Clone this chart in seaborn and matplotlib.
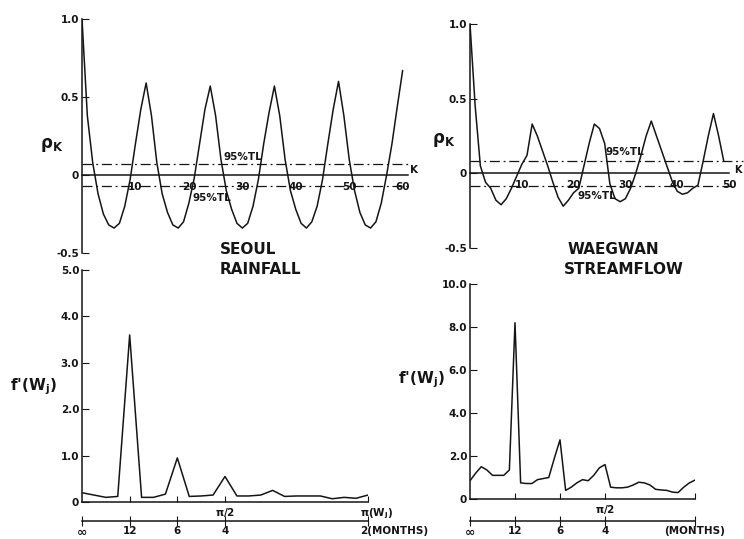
import numpy as np
import pandas as pd
import matplotlib.pyplot as plt
import seaborn as sns
import matplotlib.transforms as mtransforms

# autocorrelation of monthly Seoul rainfall, lags 0..60
seoul_acf = [1.0, 0.38, 0.08, -0.12, -0.25, -0.32, -0.34, -0.31, -0.2, -0.03, 0.2, 0.42,
             0.59, 0.38, 0.08, -0.12, -0.24, -0.32, -0.34, -0.3, -0.18, -0.02, 0.2, 0.42,
             0.57, 0.38, 0.1, -0.1, -0.22, -0.31, -0.34, -0.31, -0.2, -0.03, 0.2, 0.4,
             0.57, 0.38, 0.1, -0.1, -0.22, -0.31, -0.34, -0.3, -0.2, -0.03, 0.2, 0.42,
             0.6, 0.38, 0.1, -0.1, -0.24, -0.32, -0.34, -0.3, -0.18, 0.0, 0.2, 0.44, 0.67]
seoul_tl = 0.07

# autocorrelation of monthly Waegwan streamflow, lags 0..49
waegwan_acf = [1.0, 0.45, 0.05, -0.06, -0.1, -0.18, -0.21, -0.17, -0.1, -0.02,
               0.06, 0.12, 0.33, 0.25, 0.15, 0.05, -0.06, -0.16, -0.22, -0.18,
               -0.13, -0.1, 0.05, 0.2, 0.33, 0.3, 0.2, -0.07, -0.17, -0.19,
               -0.17, -0.1, 0.0, 0.12, 0.25, 0.35, 0.25, 0.15, 0.05, -0.05,
               -0.12, -0.14, -0.13, -0.1, -0.08, 0.08, 0.25, 0.4, 0.25, 0.08]
waegwan_tl = 0.085

# spectral density, Seoul: harmonics j = 0..24 (w_j = j*pi/24)
seoul_spec = [0.2, 0.15, 0.1, 0.12, 3.6, 0.1, 0.1, 0.17, 0.95, 0.12, 0.13, 0.15, 0.55,
              0.13, 0.13, 0.15, 0.25, 0.12, 0.13, 0.13, 0.13, 0.07, 0.1, 0.08, 0.15]
seoul_period_ticks = [0, 4, 8, 12, 24]
seoul_period_labels = ['∞', '12', '6', '4', '2(MONTHS)']

# spectral density, Waegwan: harmonics i = 0..40 (w_i = i*pi/48)
waegwan_spec = [0.85, 1.2, 1.5, 1.35, 1.1, 1.1, 1.1, 1.35, 8.2, 0.75,
                0.72, 0.72, 0.9, 0.95, 1.0, 1.9, 2.75, 0.4, 0.55, 0.75,
                0.9, 0.85, 1.1, 1.45, 1.6, 0.55, 0.52, 0.52, 0.55, 0.65,
                0.78, 0.75, 0.65, 0.45, 0.42, 0.4, 0.32, 0.3, 0.55, 0.75, 0.88]
waegwan_period_ticks = [0, 8, 16, 24, 40]
waegwan_period_labels = ['∞', '12', '6', '4', '(MONTHS)']

INK = '#151515'
W, H = 744, 539

sns.set_style('ticks')
plt.rcParams['font.family'] = ['DejaVu Sans']
plt.rcParams['font.weight'] = 'bold'
plt.rcParams['mathtext.fontset'] = 'dejavusans'
plt.rcParams['mathtext.default'] = 'bf'

fig = plt.figure(figsize=(W / 100, H / 100), dpi=100)


def px_axes(x0, x1, y_top, y_bot):
    return fig.add_axes([x0 / W, 1 - y_bot / H, (x1 - x0) / W, (y_bot - y_top) / H])


def fig_text(x, y, s, **kw):
    kw.setdefault('color', INK)
    fig.text(x / W, 1 - y / H, s, **kw)


def acf_panel(ax, acf, tl, xmax, ticks, tl_up, tl_lo, tl_ext=(1.0, 1.0)):
    df = pd.DataFrame({'lag': np.arange(len(acf)), 'rho': acf})
    sns.lineplot(data=df, x='lag', y='rho', ax=ax, color=INK, lw=1.1)
    dashdot = (0, (8, 3, 1.5, 3))
    ax.axhline(tl, xmax=tl_ext[0], color=INK, lw=0.9, ls=dashdot, clip_on=False)
    ax.axhline(-tl, xmax=tl_ext[1], color=INK, lw=0.9, ls=dashdot, clip_on=False)
    ax.text(*tl_up, '95%TL', fontsize=7.5, color=INK)
    ax.text(*tl_lo, '95%TL', fontsize=7.5, color=INK)
    ax.set_xlim(0, xmax)
    ax.set_ylim(-0.5, 1.0)
    ax.set_yticks([1.0, 0.5, 0, -0.5], ['1.0', '0.5', '0', '-0.5'])
    ax.set_xticks(ticks, [str(t) for t in ticks])
    ax.spines['bottom'].set_position(('data', 0))
    ax.spines[['top', 'right']].set_visible(False)
    ax.tick_params(axis='y', direction='in', length=5, labelsize=7.5, pad=2, colors=INK)
    ax.tick_params(axis='x', length=0, labelsize=7.5, pad=5, colors=INK)
    for s in ['left', 'bottom']:
        ax.spines[s].set_color(INK)
        ax.spines[s].set_linewidth(1.1)
    ax.set_xlabel('')
    ax.set_ylabel('')


def spec_panel(ax, spec, xmax, ymax, yticks, xticks, xlabels, sec_loc, sec_ticks, sec_labels):
    df = pd.DataFrame({'j': np.arange(len(spec)), 'f': spec})
    sns.lineplot(data=df, x='j', y='f', ax=ax, color=INK, lw=1.1)
    ax.set_xlim(0, xmax)
    ax.set_ylim(0, ymax)
    ax.set_yticks(yticks, ['0' if v == 0 else f'{v:.1f}' for v in yticks])
    ax.set_xticks(xticks, xlabels)
    ax.spines[['top', 'right']].set_visible(False)
    ax.tick_params(axis='y', direction='in', length=5, labelsize=7.5, pad=2, colors=INK)
    ax.tick_params(axis='x', direction='in', length=4, labelsize=7.5, pad=3, colors=INK)
    for s in ['left', 'bottom']:
        ax.spines[s].set_color(INK)
        ax.spines[s].set_linewidth(1.1)
    ax.set_xlabel('')
    ax.set_ylabel('')

    sec = ax.secondary_xaxis(sec_loc)
    sec.set_xticks(sec_ticks, sec_labels)
    sec.tick_params(direction='inout', length=7, labelsize=7.5, pad=0, colors=INK)
    sec.spines['bottom'].set_color(INK)
    sec.spines['bottom'].set_linewidth(1.1)
    sec.get_xticklabels()[0].set_fontsize(9)
    return sec


# ---- top row: autocorrelation
ax_tl = px_axes(82, 408, 19, 253)
acf_panel(ax_tl, seoul_acf, seoul_tl, 61, [10, 20, 30, 40, 50, 60], (26.5, 0.095), (20.7, -0.165))
ax_tr = px_axes(470, 729, 24, 248)
acf_panel(ax_tr, waegwan_acf, waegwan_tl, 50, [10, 20, 30, 40, 50], (26.1, 0.125), (20.8, -0.17),
          tl_ext=(1.055, 1.015))

fig_text(40, 145, r'$\rho_K$', fontsize=12, va='center')
fig_text(432, 140, r'$\rho_K$', fontsize=12, va='center')
fig_text(410, 170, 'K', fontsize=7.5, va='center')
fig_text(734, 170, 'K', fontsize=7, va='center')

fig_text(220, 250, 'SEOUL', fontsize=11, va='center')
fig_text(220, 270, 'RAINFALL', fontsize=11, va='center')
fig_text(568, 250, 'WAEGWAN', fontsize=11, va='center')
fig_text(564, 270, 'STREAMFLOW', fontsize=11, va='center')

# ---- bottom row: spectra
ax_bl = px_axes(82, 368, 270, 502)
spec_panel(ax_bl, seoul_spec, 24, 5.0, [0, 1.0, 2.0, 3.0, 4.0, 5.0], [4, 8, 12, 24],
           ['', '', r'$\pi$/2', r'$\pi$(W$_j$)'], -0.082, seoul_period_ticks, seoul_period_labels)
ax_br = px_axes(470, 695, 284, 499)
sec_br = spec_panel(ax_br, waegwan_spec, 40, 10.0, [0, 2.0, 4.0, 6.0, 8.0, 10.0], [8, 16, 24, 40],
                    ['', '', r'$\pi$/2', ''], -0.102, waegwan_period_ticks, waegwan_period_labels)

# end labels start at their tick, not centred on it
dpi_trans = fig.dpi_scale_trans
shift = mtransforms.ScaledTranslation(-6 / 72, 0, dpi_trans)
fig.canvas.draw()
for lab in [ax_bl.get_xticklabels()[-1], ax_bl.child_axes[0].get_xticklabels()[-1]]:
    lab.set_horizontalalignment('left')
    lab.set_transform(lab.get_transform() + shift)

fig_text(10, 387, "f'(W$_j$)", fontsize=11, va='center')
fig_text(398, 380, "f'(W$_j$)", fontsize=11, va='center')

fig.savefig('out.png', dpi=100, facecolor='white')
